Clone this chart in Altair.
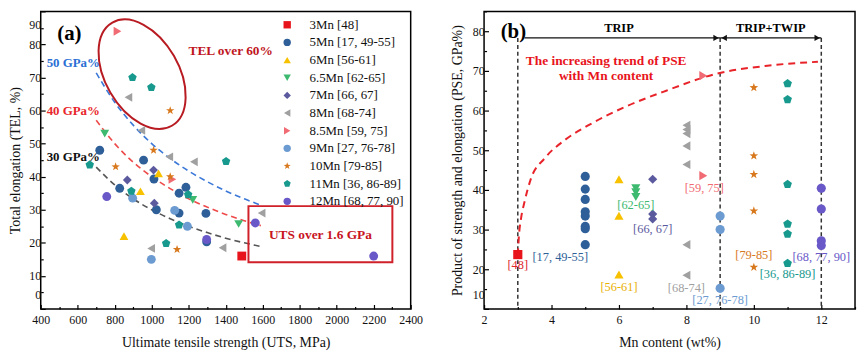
import altair as alt
import pandas as pd

FONT = "Liberation Serif"

SERIES = ["3Mn [48]", "5Mn [17, 49-55]", "6Mn [56-61]", "6.5Mn [62-65]", "7Mn [66, 67]",
          "8Mn [68-74]", "8.5Mn [59, 75]", "9Mn [27, 76-78]", "10Mn [79-85]",
          "11Mn [36, 86-89]", "12Mn [68, 77, 90]"]
SERIES_COLORS = ["#e8141c", "#2f5f98", "#f7c100", "#3dba6f", "#5b5a9e", "#a0a0a0",
                 "#f06b73", "#6c9bd1", "#d8781c", "#17998e", "#6958c8"]
STAR = ("M0,-1L0.235,-0.324L0.951,-0.309L0.380,0.124L0.588,0.809L0,0.4L-0.588,0.809"
        "L-0.380,0.124L-0.951,-0.309L-0.235,-0.324Z")
PENTAGON = "M0,-1L0.951,-0.309L0.588,0.809L-0.588,0.809L-0.951,-0.309Z"
SERIES_SHAPES = ["square", "circle", "triangle-up", "triangle-down", "diamond", "triangle-left",
                 "triangle-right", "circle", STAR, PENTAGON, "circle"]
# ellipse outline (rx=1, ry=0.617) as four cubic arcs
ELLIPSE = ("M1,0C1,0.341,0.552,0.617,0,0.617C-0.552,0.617,-1,0.341,-1,0"
           "C-1,-0.341,-0.552,-0.617,0,-0.617C0.552,-0.617,1,-0.341,1,0Z")

# ---------- panel (a): UTS (MPa) vs TEL (%) ----------
UTS_3MN = [1487]
TEL_3MN = [16.0]
UTS_5MN = [719, 956, 1012, 827, 1025, 1148, 1148, 1185, 1293, 1297]
TEL_5MN = [48.0, 45.0, 39.3, 36.5, 30.0, 29.0, 35.0, 36.8, 28.9, 20.3]
UTS_6MN = [1037, 939, 850]
TEL_6MN = [41.0, 35.6, 22.0]
UTS_65MN = [746, 1222, 1470]
TEL_65MN = [53.0, 33.0, 25.7]
UTS_7MN = [1010, 868, 1014]
TEL_7MN = [42.0, 39.0, 32.0]
UTS_8MN = [874, 944, 1095, 1228, 1594, 997, 1383]
TEL_8MN = [64.0, 54.0, 46.0, 44.5, 29.0, 18.3, 18.5]
UTS_85MN = [815, 1112]
TEL_85MN = [84.0, 39.2]
UTS_9MN = [897, 1124, 1193, 998]
TEL_9MN = [33.5, 29.8, 25.0, 15.0]
UTS_10MN = [1100, 1010, 805, 1100, 1137]
TEL_10MN = [60.0, 48.0, 43.0, 40.0, 18.0]
UTS_11MN = [896, 998, 665, 890, 1197, 1148, 1078, 1402]
TEL_11MN = [70.0, 67.0, 43.6, 35.6, 34.6, 25.4, 19.8, 44.6]
UTS_12MN = [757, 1297, 1560, 2200]
TEL_12MN = [34.0, 21.0, 26.0, 16.0]

# iso-PSE guide curves
ISO_UTS = [700, 800, 900, 1000, 1100, 1200, 1300, 1400, 1500, 1590]
ISO50_TEL = [71.4, 62.5, 55.6, 50.0, 45.5, 41.7, 38.5, 35.7, 33.3, 31.4]
ISO40_TEL = [57.1, 50.0, 44.4, 40.0, 36.4, 33.3, 30.8, 28.6, 26.7, 25.2]
ISO30_TEL = [42.9, 37.5, 33.3, 30.0, 27.3, 25.0, 23.1, 21.4, 20.0, 18.9]

# ---------- panel (b): Mn content vs PSE ----------
MN_CONTENT = [3, 5, 6, 6.5, 7, 8, 8.5, 9, 10, 11, 12]
PSE_3MN = [23.7]
PSE_5MN = [43.4, 40.2, 37.6, 34.5, 33.4, 30.8, 30.2, 26.2]
PSE_6MN = [42.7, 33.5, 18.7]
PSE_65MN = [40.4, 39.4, 38.2]
PSE_7MN = [42.7, 33.9, 32.7]
PSE_8MN = [56.3, 55.2, 54.2, 51.1, 46.4, 26.2, 18.5]
PSE_85MN = [68.8, 43.6]
PSE_9MN = [33.4, 30.0, 15.2]
PSE_10MN = [65.8, 48.6, 43.9, 34.7, 20.5]
PSE_11MN = [66.8, 62.8, 41.4, 31.4, 28.9, 21.5]
PSE_12MN = [40.4, 35.2, 27.2, 26.0]

TREND_MN = [3.0, 3.03, 3.1, 3.2, 3.38, 3.8, 4.4, 5.2, 6.2, 7.4, 8.9, 10.4, 11.9]
TREND_PSE = [23.5, 28.0, 33.0, 37.0, 42.6, 48.0, 52.6, 56.8, 61.0, 65.0, 69.3, 71.3, 72.3]

REF_TEXT = ["[48]", "[17, 49-55]", "[56-61]", "[62-65]", "[66, 67]", "[68-74]", "[59, 75]",
            "[27, 76-78]", "[79-85]", "[36, 86-89]", "[68, 77, 90]"]
REF_MN = [3.0, 4.26, 6.0, 6.5, 7.0, 8.0, 8.53, 9.0, 10.0, 11.0, 12.0]
REF_PSE = [21.0, 23.2, 15.5, 36.1, 30.2, 15.3, 40.4, 12.2, 23.7, 18.7, 23.0]
REF_COLORS = ["#e0262b", "#2f5f98", "#e8b000", "#3dba6f", "#5b5a9e", "#a0a0a0",
              "#f06b73", "#6c9bd1", "#d8781c", "#17998e", "#6958c8"]

PHASE_LINES_MN = [3, 9, 12]

# axis tick values
UTS_MAJOR = list(range(400, 2401, 200))
UTS_MINOR = list(range(500, 2400, 200))
TEL_MAJOR = list(range(0, 91, 10))
TEL_MINOR = list(range(5, 90, 10))
MN_MAJOR = list(range(2, 13, 2))
MN_MINOR = list(range(3, 14, 2))
PSE_MAJOR = list(range(10, 81, 10))
PSE_MINOR = list(range(15, 86, 10))


def long_table(xs_lists, ys_lists, xname, yname):
    rows = []
    for name, xs, ys in zip(SERIES, xs_lists, ys_lists):
        for xv, yv in zip(xs, ys):
            rows.append({"series": name, xname: xv, yname: yv})
    return pd.DataFrame(rows)


df_a = long_table(
    [UTS_3MN, UTS_5MN, UTS_6MN, UTS_65MN, UTS_7MN, UTS_8MN, UTS_85MN, UTS_9MN, UTS_10MN, UTS_11MN, UTS_12MN],
    [TEL_3MN, TEL_5MN, TEL_6MN, TEL_65MN, TEL_7MN, TEL_8MN, TEL_85MN, TEL_9MN, TEL_10MN, TEL_11MN, TEL_12MN],
    "uts", "tel")
pse_lists = [PSE_3MN, PSE_5MN, PSE_6MN, PSE_65MN, PSE_7MN, PSE_8MN, PSE_85MN, PSE_9MN, PSE_10MN, PSE_11MN, PSE_12MN]
df_b = long_table([[m] * len(p) for m, p in zip(MN_CONTENT, pse_lists)], pse_lists, "mn", "pse")

W_A, W_B, H = 373, 374, 300

xs_a = alt.Scale(domain=[400, 2400], nice=False, zero=False)
ys_a = alt.Scale(domain=[0, 90], nice=False)
xs_b = alt.Scale(domain=[2, 13], nice=False, zero=False)
ys_b = alt.Scale(domain=[10, 85], nice=False, zero=False)


def label_axis(title, values, orient, **kw):
    return alt.Axis(title=title, values=values, orient=orient, ticks=False, domain=False,
                    format="d", labelOverlap=False, **kw)


def tick_axis(values, size, orient):
    # inward ticks: an unlabeled axis pushed inside the frame by its own tick length
    return alt.Axis(title=None, values=values, orient=orient, labels=False, domain=False,
                    ticks=True, tickSize=size, offset=-size)


MAJ, MIN = 4.5, 2.5

AX_A = {
    "lab": (label_axis("Ultimate tensile strength (UTS, MPa)", UTS_MAJOR, "bottom", labelPadding=6,
                       titlePadding=10, labelFlush=False),
            label_axis("Total elongation (TEL, %)", TEL_MAJOR, "left", labelPadding=0, titleX=-18,
                       labelFlush=True, labelFlushOffset=-8)),
    "maj": (tick_axis(UTS_MAJOR, MAJ, "bottom"), tick_axis(TEL_MAJOR, MAJ, "left")),
    "min": (tick_axis(UTS_MINOR, MIN, "bottom"), tick_axis(TEL_MINOR, MIN, "left")),
}
AX_B = {
    "lab": (label_axis("Mn content (wt%)", MN_MAJOR, "bottom", labelPadding=6, titlePadding=10,
                       labelFlush=False),
            label_axis("Product of strength and elongation (PSE, GPa%)", PSE_MAJOR, "left",
                       labelPadding=0, titleX=-20, labelFlush=True, labelFlushOffset=-8)),
    "maj": (tick_axis(MN_MAJOR, MAJ, "bottom"), tick_axis(PSE_MAJOR, MAJ, "left")),
    "min": (tick_axis(MN_MINOR, MIN, "bottom"), tick_axis(PSE_MINOR, MIN, "left")),
}


def xy_a(xf, yf, which=None):
    ax = AX_A[which] if which else (None, None)
    return dict(x=alt.X(xf, scale=xs_a, axis=ax[0]), y=alt.Y(yf, scale=ys_a, axis=ax[1]))


def xy_b(xf, yf, which=None):
    ax = AX_B[which] if which else (None, None)
    return dict(x=alt.X(xf, scale=xs_b, axis=ax[0]), y=alt.Y(yf, scale=ys_b, axis=ax[1]))


legend_a = alt.Legend(orient="top-right", offset=7, title=None, labelFont=FONT,
                      labelFontSize=13, labelColor="#111", symbolSize=55, rowPadding=3.8,
                      padding=0, labelOffset=16, labelLimit=300)

color_a = alt.Color("series:N", scale=alt.Scale(domain=SERIES, range=SERIES_COLORS), legend=legend_a)
shape_a = alt.Shape("series:N", scale=alt.Scale(domain=SERIES, range=SERIES_SHAPES), legend=legend_a)

layers_a = []
for tel_list, col, which in [(ISO50_TEL, "#3b78d8", "lab"), (ISO40_TEL, "#ee4a4a", "maj"),
                             (ISO30_TEL, "#555555", "min")]:
    d = pd.DataFrame({"uts": ISO_UTS, "tel": tel_list})
    layers_a.append(alt.Chart(d).mark_line(strokeDash=[6, 4], strokeWidth=1.6, color=col,
                                           interpolate="monotone").encode(**xy_a("uts:Q", "tel:Q", which)))

for txt, tv, col in [("50 GPa%", 74.5, "#2a6fd4"), ("40 GPa%", 60.0, "#e8262b"), ("30 GPa%", 46.0, "#111111")]:
    d = pd.DataFrame({"uts": [432], "tel": [tv], "t": [txt]})
    layers_a.append(alt.Chart(d).mark_text(align="left", baseline="middle", fontWeight="bold",
                                           fontSize=13, color=col, font=FONT).encode(
        text="t:N", **xy_a("uts:Q", "tel:Q")))

ell = pd.DataFrame({"uts": [948], "tel": [71.0]})
layers_a.append(alt.Chart(ell).mark_point(shape=ELLIPSE, size=14400, angle=60, filled=False, clip=True,
                                          color="#b81c22", strokeWidth=2, opacity=1).encode(
    **xy_a("uts:Q", "tel:Q")))

box = pd.DataFrame({"x1": [1523], "x2": [2301], "y1": [31.1], "y2": [14.1]})
layers_a.append(alt.Chart(box).mark_rect(fillOpacity=0, stroke="#d0202a", strokeWidth=2).encode(
    x2="x2:Q", y2="y2:Q", **xy_a("x1:Q", "y1:Q")))

for txt, xv, yv, size, col in [("TEL over 60%", 1427, 78.0, 13.5, "#c0161e"),
                               ("UTS over 1.6 GPa", 1912, 22.4, 13.5, "#c8141e"),
                               ("(a)", 555, 83.0, 21, "#000000")]:
    d = pd.DataFrame({"uts": [xv], "tel": [yv], "t": [txt]})
    layers_a.append(alt.Chart(d).mark_text(align="center", baseline="middle", fontWeight="bold",
                                           fontSize=size, color=col, font=FONT).encode(
        text="t:N", **xy_a("uts:Q", "tel:Q")))

layers_a.append(alt.Chart(df_a).mark_point(filled=True, size=80, opacity=1).encode(
    color=color_a, shape=shape_a, **xy_a("uts:Q", "tel:Q")))

panel_a = alt.layer(*layers_a).resolve_axis(x="independent", y="independent").properties(
    width=W_A, height=H)

# ---------- panel (b) ----------
layers_b = []
vl = pd.DataFrame({"mn": PHASE_LINES_MN, "top": [78.3] * 3, "bot": [10] * 3})
layers_b.append(alt.Chart(vl).mark_rule(strokeDash=[4, 3], strokeWidth=1.5, color="#333").encode(
    y2="bot:Q", **xy_b("mn:Q", "top:Q", "lab")))

hl = pd.DataFrame({"a": [3.2, 9.0], "b": [9.0, 12.0], "y": [78.3, 78.3]})
layers_b.append(alt.Chart(hl).mark_rule(strokeWidth=1.3, color="#111").encode(
    x2="b:Q", **xy_b("a:Q", "y:Q", "maj")))

trend = pd.DataFrame({"mn": TREND_MN, "pse": TREND_PSE})
layers_b.append(alt.Chart(trend).mark_line(strokeDash=[7, 5], strokeWidth=2, color="#e8232a",
                                           interpolate="monotone").encode(
    **xy_b("mn:Q", "pse:Q", "min")))

arrows = pd.DataFrame({"mn": [8.88, 9.12, 11.88], "y": [78.3] * 3,
                       "s": ["triangle-right", "triangle-left", "triangle-right"]})
layers_b.append(alt.Chart(arrows).mark_point(filled=True, size=40, color="#111", opacity=1).encode(
    shape=alt.Shape("s:N", scale=None), **xy_b("mn:Q", "y:Q")))

color_b = alt.Color("series:N", scale=alt.Scale(domain=SERIES, range=SERIES_COLORS), legend=None)
shape_b = alt.Shape("series:N", scale=alt.Scale(domain=SERIES, range=SERIES_SHAPES), legend=None)
layers_b.append(alt.Chart(df_b).mark_point(filled=True, size=85, opacity=1).encode(
    color=color_b, shape=shape_b, **xy_b("mn:Q", "pse:Q")))

refs = pd.DataFrame({"mn": REF_MN, "pse": REF_PSE, "t": REF_TEXT, "c": REF_COLORS})
layers_b.append(alt.Chart(refs).mark_text(fontSize=12.5, font=FONT, baseline="middle").encode(
    text="t:N", color=alt.Color("c:N", scale=None), **xy_b("mn:Q", "pse:Q")))

for txt, xv, yv, size, col in [("(b)", 2.87, 79.8, 21, "#000000"),
                               ("TRIP", 6.0, 80.8, 12.5, "#000000"),
                               ("TRIP+TWIP", 10.5, 80.8, 12.5, "#000000"),
                               ("The increasing trend of PSE", 5.62, 72.5, 13.5, "#e8141c"),
                               ("with Mn content", 5.62, 68.6, 13.5, "#e8141c")]:
    d = pd.DataFrame({"mn": [xv], "pse": [yv], "t": [txt]})
    layers_b.append(alt.Chart(d).mark_text(align="center", baseline="middle", fontWeight="bold",
                                           fontSize=size, color=col, font=FONT).encode(
        text="t:N", **xy_b("mn:Q", "pse:Q")))

panel_b = alt.layer(*layers_b).resolve_scale(color="independent", shape="independent").resolve_axis(
    x="independent", y="independent").properties(width=W_B, height=H)

chart = alt.hconcat(panel_a, panel_b, spacing=26).resolve_scale(
    color="independent", shape="independent").properties(
    padding={"left": 0, "top": 0, "right": 0, "bottom": 0}
).configure(font=FONT).configure_view(stroke="#000", strokeWidth=1.5).configure_axis(
    grid=False, domain=False, tickColor="#000", tickWidth=1.2,
    labelColor="#111", titleColor="#111", labelFont=FONT, titleFont=FONT, labelFontSize=12,
    titleFontSize=14, titleFontWeight="normal")

chart.save("out.html", embed_options={"renderer": "svg", "actions": False})
